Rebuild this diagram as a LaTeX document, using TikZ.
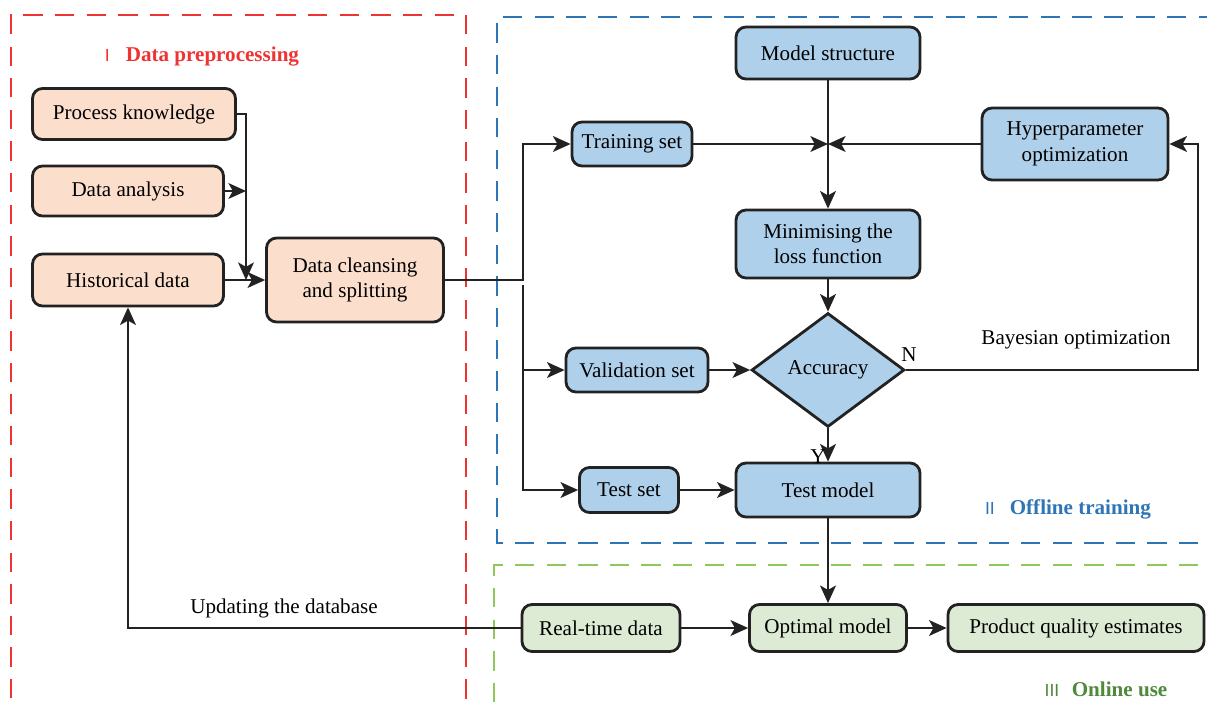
\documentclass[tikz,border=0pt]{standalone}
\usepackage{fontspec}
\setmainfont{Liberation Serif}
\newfontfamily\numfont{Liberation Sans}
\usetikzlibrary{shapes.geometric,arrows.meta}
\definecolor{prepfill}{HTML}{FBDECC}
\definecolor{trainfill}{HTML}{AFD0EA}
\definecolor{onlinefill}{HTML}{DDEBD5}
\definecolor{prepline}{HTML}{EE3333}
\definecolor{trainline}{HTML}{2E75B6}
\definecolor{onlineline}{HTML}{8CC85A}
\definecolor{onlinetext}{HTML}{4F8A3B}
\definecolor{ink}{HTML}{222222}
\begin{document}
\begin{tikzpicture}
  [x=0.02cm,y=-0.02cm,font=\fontsize{12}{14.5}\selectfont,
   every node/.style={inner sep=0pt},
   box/.style={draw=ink,line width=1.6pt,rounded corners=0.2cm,align=center},
   prep/.style={box,fill=prepfill},
   train/.style={box,fill=trainfill},
   online/.style={box,fill=onlinefill},
   link/.style={color=ink,line width=1.2pt,-{Stealth[length=10pt,width=9pt,inset=2.5pt]}},
   frame/.style={line width=1.6pt,dash pattern=on 11pt off 7pt}]
  \useasboundingbox (0,0) rectangle (1207,710);

  % dashed frames
  \draw[frame,draw=prepline] (11,730) -- (11,15) -- (466,15) -- (466,730);
  \draw[frame,draw=trainline] (1230,543) -- (497,543) -- (497,17) -- (1230,17);
  \draw[frame,draw=onlineline] (1230,565) -- (494,565) -- (494,730);

  \node[text=prepline] (preplabel) at (202,57) {{\numfont\fontsize{10}{12}\selectfont I}\hspace{0.32cm}\textbf{Data preprocessing}};
  \node[text=trainline] (trainlabel) at (1068,509) {{\numfont\fontsize{10}{12}\selectfont II}\hspace{0.3cm}\textbf{Offline training}};
  \node[text=onlinetext] (onlinelabel) at (1106,689) {{\numfont\fontsize{10}{12}\selectfont III}\hspace{0.25cm}\textbf{Online use}};

  % data preprocessing
  \node[prep,minimum width=4.06cm,minimum height=1.02cm] (know) at (134,114) {Process knowledge};
  \node[prep,minimum width=3.82cm,minimum height=1cm] (anal) at (128,191) {Data analysis};
  \node[prep,minimum width=3.82cm,minimum height=1.04cm] (hist) at (128,280) {Historical data};
  \node[prep,minimum width=3.54cm,minimum height=1.68cm] (clean) at (355,280) {Data cleansing\\and splitting};

  % offline training
  \node[train,minimum width=3.68cm,minimum height=1.04cm] (struct) at (828,53) {Model structure};
  \node[train,minimum width=2.4cm,minimum height=0.88cm] (trainset) at (632,144) {Training set};
  \node[train,minimum width=3.72cm,minimum height=1.44cm] (hyper) at (1075,144) {Hyperparameter\\optimization};
  \node[train,minimum width=3.68cm,minimum height=1.36cm] (loss) at (828,244) {Minimising the\\loss function};
  \node[diamond,draw=ink,line width=1.6pt,fill=trainfill,minimum width=3.06cm,minimum height=2.28cm] (acc) at (828,370) {Accuracy};
  \node[train,minimum width=2.84cm,minimum height=0.88cm] (valset) at (637,370) {Validation set};
  \node[train,minimum width=1.98cm,minimum height=0.9cm] (testset) at (629,490) {Test set};
  \node[train,minimum width=3.68cm,minimum height=1.08cm] (testmod) at (828,490) {Test model};

  % online use
  \node[online,minimum width=3.16cm,minimum height=0.94cm] (rtdata) at (601,628) {Real-time data};
  \node[online,minimum width=3.14cm,minimum height=0.94cm] (optmod) at (828,628) {Optimal model};
  \node[online,minimum width=5.12cm,minimum height=0.94cm] (estim) at (1076,628) {Product quality estimates};

  \coordinate (join) at (246,280);
  \coordinate (split) at (523,280);
  \coordinate (splitlow) at (523,285);
  \coordinate (merge) at (828,144);
  \coordinate (back) at (1198,370);

  \draw[link] (know.east) -| (join);
  \draw[link] (clean.east) -- (split) |- (trainset.west);
  \draw[link] (splitlow) |- (testset.west);
  \draw[link] (acc.east) -- (back) |- (hyper.east);
  \draw[link] (rtdata.west) -| (hist.south);
  \path[link]
    (anal.east) edge (anal.east -| join)
    (hist) edge (clean)
    (splitlow |- valset.west) edge (valset.west)
    (trainset) edge (merge)
    (hyper) edge (merge)
    (struct) edge (loss)
    (loss) edge (acc)
    (valset) edge (acc)
    (acc) edge (testmod)
    (testset) edge (testmod)
    (testmod) edge (optmod)
    (rtdata) edge (optmod)
    (optmod) edge (estim);

  \node (nlabel) at (909,355) {N};
  \node (ylabel) at (818,457) {Y};
  \node (bayes) at (1076,340) {Bayesian optimization};
  \node (update) at (284,608) {Updating the database};
\end{tikzpicture}
\end{document}
